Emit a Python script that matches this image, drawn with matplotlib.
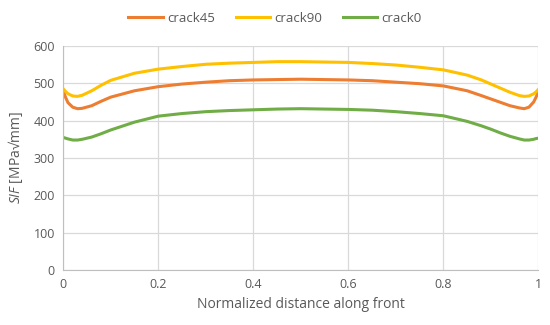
import matplotlib
matplotlib.use("Agg")
import matplotlib.pyplot as plt

x = [0, 0.005, 0.01, 0.02, 0.03, 0.04, 0.06, 0.08, 0.1, 0.15, 0.2, 0.25, 0.3, 0.35, 0.4, 0.45,
     0.5, 0.55, 0.6, 0.65, 0.7, 0.75, 0.8, 0.85, 0.88, 0.9, 0.92, 0.94, 0.96, 0.97, 0.98, 0.99, 0.995, 1.0]
crack45 = [480, 462, 448, 436, 432, 433, 440, 452, 463, 480, 491, 498, 503, 507, 509, 510,
           511, 510, 509, 507, 503, 499, 493, 480, 467, 458, 449, 440, 434, 432, 436, 450, 463, 478]
crack90 = [485, 478, 472, 466, 465, 468, 480, 495, 508, 527, 538, 545, 551, 554, 556, 558,
           558, 557, 556, 553, 549, 543, 536, 522, 509, 498, 487, 476, 467, 465, 466, 472, 477, 484]
crack0 = [355, 353, 351, 348, 348, 350, 356, 365, 375, 396, 412, 419, 424, 427, 429, 431,
          432, 431, 430, 428, 424, 419, 413, 398, 386, 377, 367, 358, 351, 348, 348, 350, 352, 353]
xticks = [0, 0.2, 0.4, 0.6, 0.8, 1]
xticklabels = ["0", "0.2", "0.4", "0.6", "0.8", "1"]
yticks = [0, 100, 200, 300, 400, 500, 600]

plt.rcParams['font.family'] = ['Open Sans', 'DejaVu Sans']
plt.rcParams['mathtext.fontset'] = 'custom'
plt.rcParams['mathtext.it'] = 'Open Sans:italic'
plt.rcParams['mathtext.rm'] = 'Open Sans'

txt = '#595959'
fig = plt.figure(figsize=(5.5, 3.25), dpi=100)
ax = fig.add_axes([0.115, 0.1695, 0.864, 0.689])
ax.plot(x, crack45, color='#ED7D31', lw=2.2, label='crack45')
ax.plot(x, crack90, color='#FFC000', lw=2.2, label='crack90')
ax.plot(x, crack0, color='#70AD47', lw=2.2, label='crack0')
ax.set_xlim(0, 1)
ax.set_ylim(0, 600)
ax.set_xticks(xticks)
ax.set_xticklabels(xticklabels)
ax.set_yticks(yticks)
ax.grid(True, color='#d9d9d9', lw=0.9)
ax.set_axisbelow(True)
for s in ['top', 'right']:
    ax.spines[s].set_visible(False)
for s in ['left', 'bottom']:
    ax.spines[s].set_color('#bfbfbf')
ax.tick_params(length=0, labelsize=9, colors=txt, pad=6)
ax.set_xlabel('Normalized distance along front', fontsize=10, color=txt, labelpad=4)
ax.set_ylabel(r'$\mathit{SIF}$ [MPa√mm]', fontsize=10, color=txt, labelpad=6)
leg = fig.legend(loc='upper center', bbox_to_anchor=(0.5, 1.0), ncol=3, frameon=False,
                 fontsize=9.5, handlelength=2.6, columnspacing=1.6, handletextpad=0.3)
for t in leg.get_texts():
    t.set_color(txt)
fig.savefig('out.png', dpi=100)
